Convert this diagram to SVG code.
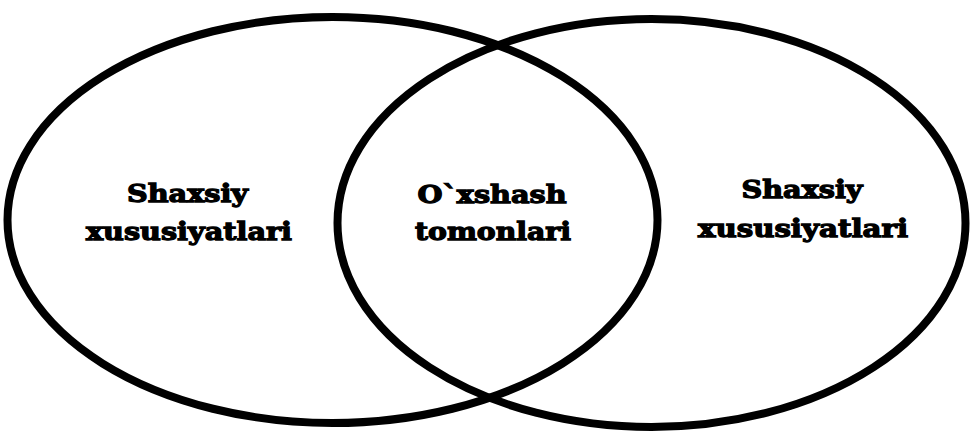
<svg xmlns="http://www.w3.org/2000/svg" width="972" height="434" viewBox="0 0 972 434">
<style>
.c{fill:none;stroke:#000;stroke-width:8}
.t{font-family:"DejaVu Serif","Liberation Serif",serif;font-weight:bold;font-size:25px;fill:#000;stroke:#000;stroke-width:1.3;text-anchor:middle}
</style>
<rect width="972" height="434" fill="#fff"/>
<g id="left">
<ellipse class="c" cx="332.5" cy="220" rx="325" ry="203"/>
<text class="t" x="187.5" y="202" textLength="121" lengthAdjust="spacingAndGlyphs">Shaxsiy</text>
<text class="t" x="189" y="240" textLength="206" lengthAdjust="spacingAndGlyphs">xususiyatlari</text>
</g>
<g id="right">
<ellipse class="c" cx="651.5" cy="223" rx="314" ry="204"/>
<text class="t" x="802" y="198" textLength="121" lengthAdjust="spacingAndGlyphs">Shaxsiy</text>
<text class="t" x="803" y="237" textLength="210" lengthAdjust="spacingAndGlyphs">xususiyatlari</text>
</g>
<g id="center">
<text class="t" x="492" y="203" textLength="149" lengthAdjust="spacingAndGlyphs">O`xshash</text>
<text class="t" x="493" y="240" textLength="156" lengthAdjust="spacingAndGlyphs">tomonlari</text>
</g>
<g id="connectors"></g>
</svg>
